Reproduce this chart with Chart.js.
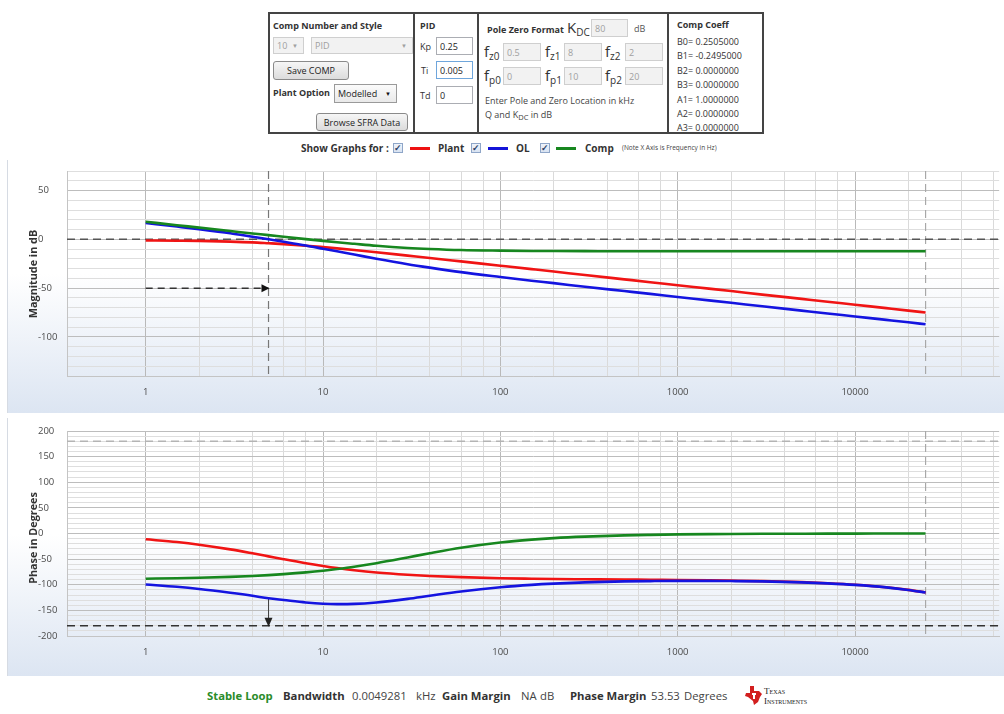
<!DOCTYPE html>
<html>
<head>
<meta charset="utf-8">
<script src="https://cdn.jsdelivr.net/npm/chart.js@4.4.1/dist/chart.umd.min.js"></script>
<style>
  html, body { margin: 0; padding: 0; background: #fff; }
  body { width: 1004px; height: 714px; position: relative; overflow: hidden;
         font-family: "Open Sans", "Noto Sans", sans-serif; color: #333; }
  .t { position: absolute; transform: translateY(-50%); line-height: 1; white-space: nowrap; }
  .b { font-weight: 700; }
  .s10 { font-size: 9px; }
  .box { position: absolute; box-sizing: border-box; font-size: 9px; line-height: 1;
         display: flex; align-items: center; padding-left: 3px; white-space: nowrap; }
  .inp { background: #fff; border: 1px solid #abadb3; color: #222; }
  .dis { background: #f2f2f2; border: 1px solid #cfcfcf; color: #a0a0a0; }
  .btn { background: linear-gradient(#f6f6f6, #dcdcdc); border: 1px solid #8a8a8a; border-radius: 3px;
         color: #222; justify-content: center; padding-left: 0; }
  .arrow { position: absolute; right: 5px; font-size: 6px; }
  .vr { position: absolute; top: 12px; width: 2px; height: 122px; background: #444; }
  .f { font-size: 15px; color: #333; }
  .f sub { font-size: 10px; vertical-align: -3px; }
  .chk { position: absolute; box-sizing: border-box; width: 10px; height: 10px; border: 1px solid #8fa6c8;
         background: linear-gradient(#eef3fb, #d9e3f2); font-size: 9px; line-height: 8px; text-align: center;
         color: #2b3f66; font-weight: 700; }
  .sw { position: absolute; height: 3px; width: 20px; }
  .panel { position: absolute; left: 7px; width: 997px; box-sizing: border-box;
           border-left: 1px solid #d6dbe3;
           background: linear-gradient(to bottom, #ffffff 0%, #ffffff 45%, #dce5f2 100%); }
  .ytitle { position: absolute; font-size: 10.8px; font-weight: 700; color: #333; white-space: nowrap;
            transform: translate(-50%, -50%) rotate(-90deg); }
  canvas { position: absolute; }
  .bot { font-size: 11.3px; }
</style>
</head>
<body>

<!-- compensator setup panel -->
<div style="position:absolute;left:268px;top:12px;width:496px;height:122px;border:2px solid #444;box-sizing:border-box;"></div>
<div class="vr" style="left:413px"></div>
<div class="vr" style="left:477px"></div>
<div class="vr" style="left:667px"></div>

<span class="t b s10" style="left:273px;top:25px">Comp Number and Style</span>
<div class="box dis" style="left:273px;top:37px;width:31px;height:17px">10<span class="arrow">&#9660;</span></div>
<div class="box dis" style="left:311px;top:37px;width:102px;height:17px">PID<span class="arrow">&#9660;</span></div>
<div class="box btn" style="left:273px;top:61px;width:76px;height:19px">Save COMP</div>
<span class="t b s10" style="left:273px;top:92px">Plant Option</span>
<div class="box inp" style="left:334px;top:84px;width:63px;height:19px;border-color:#9a9a9a;background:linear-gradient(#fbfbfb,#e9e9e9)">Modelled<span class="arrow" style="color:#111">&#9660;</span></div>
<div class="box btn" style="left:316px;top:113px;width:92px;height:18px">Browse SFRA Data</div>

<span class="t b s10" style="left:420px;top:25px">PID</span>
<span class="t s10" style="left:420px;top:46px">Kp</span>
<div class="box inp" style="left:436px;top:37px;width:37px;height:18px">0.25</div>
<span class="t s10" style="left:421px;top:70px">Ti</span>
<div class="box inp" style="left:436px;top:61px;width:37px;height:18px;border-color:#6fa6dc">0.005</div>
<span class="t s10" style="left:420px;top:95px">Td</span>
<div class="box inp" style="left:436px;top:86px;width:37px;height:18px">0</div>

<span class="t b s10" style="left:487px;top:29px">Pole Zero Format</span>
<span class="t f" style="left:567px;top:28px">K<sub>DC</sub></span>
<div class="box dis" style="left:591px;top:19px;width:37px;height:18px">80</div>
<span class="t s10" style="left:634px;top:28px;color:#555">dB</span>

<span class="t f" style="left:484px;top:52px">f<sub>z0</sub></span>
<div class="box dis" style="left:503px;top:43px;width:38px;height:18px">0.5</div>
<span class="t f" style="left:545px;top:52px">f<sub>z1</sub></span>
<div class="box dis" style="left:564px;top:43px;width:38px;height:18px">8</div>
<span class="t f" style="left:605px;top:52px">f<sub>z2</sub></span>
<div class="box dis" style="left:625px;top:43px;width:38px;height:18px">2</div>

<span class="t f" style="left:484px;top:76px">f<sub>p0</sub></span>
<div class="box dis" style="left:503px;top:67px;width:38px;height:18px">0</div>
<span class="t f" style="left:545px;top:76px">f<sub>p1</sub></span>
<div class="box dis" style="left:564px;top:67px;width:38px;height:18px">10</div>
<span class="t f" style="left:605px;top:76px">f<sub>p2</sub></span>
<div class="box dis" style="left:625px;top:67px;width:38px;height:18px">20</div>

<span class="t s10" style="left:485px;top:100px;color:#444">Enter Pole and Zero Location in kHz</span>
<span class="t s10" style="left:485px;top:116px;color:#444">Q and K<sub style="font-size:7.5px;vertical-align:-2px">DC</sub> in dB</span>

<span class="t b s10" style="left:677px;top:24px">Comp Coeff</span>
<span class="t s10" style="left:677px;top:41px">B0= 0.2505000</span>
<span class="t s10" style="left:677px;top:55px">B1= -0.2495000</span>
<span class="t s10" style="left:677px;top:70px">B2= 0.0000000</span>
<span class="t s10" style="left:677px;top:84px">B3= 0.0000000</span>
<span class="t s10" style="left:677px;top:99px">A1= 1.0000000</span>
<span class="t s10" style="left:677px;top:113px">A2= 0.0000000</span>
<span class="t s10" style="left:677px;top:127px">A3= 0.0000000</span>

<!-- series selector -->
<span class="t b" style="left:301px;top:148px;font-size:10px">Show Graphs for :</span>
<div class="chk" style="left:393px;top:143px">&#10003;</div>
<div class="sw" style="left:410px;top:147px;background:#ee1111"></div>
<span class="t b" style="left:438px;top:148px;font-size:10px">Plant</span>
<div class="chk" style="left:471px;top:143px">&#10003;</div>
<div class="sw" style="left:488px;top:147px;background:#1414d8"></div>
<span class="t b" style="left:516px;top:148px;font-size:10px">OL</span>
<div class="chk" style="left:540px;top:143px">&#10003;</div>
<div class="sw" style="left:556px;top:147px;background:#17871f"></div>
<span class="t b" style="left:585px;top:148px;font-size:10px">Comp</span>
<span class="t" style="left:622px;top:148px;font-size:6.5px;color:#444">(Note X Axis is Frequency in Hz)</span>

<!-- Bode plots -->
<div class="panel" style="top:160px;height:253px"></div>
<div class="panel" style="top:418px;height:258px"></div>
<canvas id="magChart" width="997" height="253" style="left:7px;top:160px"></canvas>
<canvas id="phaseChart" width="997" height="258" style="left:7px;top:418px"></canvas>
<div class="ytitle" style="left:32px;top:274px">Magnitude in dB</div>
<div class="ytitle" style="left:32px;top:538px">Phase in Degrees</div>

<!-- loop summary -->
<span class="t b bot" style="left:207px;top:696px;color:#2a8c2a">Stable Loop</span>
<span class="t b bot" style="left:283px;top:696px">Bandwidth</span>
<span class="t bot" style="left:352px;top:696px;color:#444">0.0049281</span>
<span class="t bot" style="left:416px;top:696px;color:#444">kHz</span>
<span class="t b bot" style="left:442px;top:696px">Gain Margin</span>
<span class="t bot" style="left:521px;top:696px;color:#444">NA</span>
<span class="t bot" style="left:540px;top:696px;color:#444">dB</span>
<span class="t b bot" style="left:570px;top:696px">Phase Margin</span>
<span class="t bot" style="left:651px;top:696px;color:#444">53.53</span>
<span class="t bot" style="left:684px;top:696px;color:#444">Degrees</span>
<svg style="position:absolute;left:745px;top:686px" width="17" height="19" viewBox="0 0 17 19">
  <path d="M5 0 H9 V5 H14 L17 8 L15 11 L13 16 L9 19 L8 15 L3 11 L0 10 L1 7 L5 7 Z" fill="#d21f1f"/>
  <path d="M7 7 H11 V9 H10 V13 H8 V9 H7 Z" fill="#fff"/>
</svg>
<span class="t" style="left:764px;top:691px;font-family:'Liberation Serif',serif;font-size:9px;color:#222;font-variant:small-caps">Texas</span>
<span class="t" style="left:764px;top:701px;font-family:'Liberation Serif',serif;font-size:9px;color:#222;font-variant:small-caps">Instruments</span>

<script>
// Frequency sweep points (Hz)
const freqHz = [1, 1.5, 2, 3, 4, 4.93, 6, 8, 10, 12, 15, 20, 30, 40, 60, 100, 150, 200, 300, 500, 700,
                1000, 1500, 2000, 3000, 5000, 7000, 10000, 15000, 20000, 25000];

// Magnitude (dB)
const plantMagDb = [-1.2, -1.4, -1.6, -2.3, -3.1, -4.0, -4.9, -6.5, -8.0, -9.3, -11.0, -13.3, -16.7, -19.1, -22.6,
                    -27.0, -30.5, -33.0, -36.6, -41.0, -43.9, -47.0, -50.5, -53.0, -56.6, -61.0, -63.9, -67.0,
                    -70.5, -73.0, -75.0];
const olMagDb = [16.8, 13.1, 10.4, 6.2, 2.6, 0.0, -2.5, -6.3, -9.6, -12.3, -15.6, -19.9, -25.5, -29.0, -33.6,
                 -38.6, -42.4, -44.9, -48.6, -53.0, -55.9, -59.0, -62.5, -65.0, -68.6, -73.0, -75.9, -79.0,
                 -82.5, -85.0, -87.0];
const compMagDb = [18.0, 14.5, 12.0, 8.5, 6.0, 4.3, 2.6, 0.2, -1.6, -3.0, -4.6, -6.6, -8.8, -9.9, -11.0,
                   -11.6, -11.9, -12.0, -12.1, -12.2, -12.2, -12.2, -12.2, -12.2, -12.2, -12.2, -12.2, -12.2,
                   -12.2, -12.2, -12.2];

// Phase (degrees)
const plantPhaseDeg = [-11.3, -16.7, -21.8, -31.0, -38.7, -44.6, -50.2, -58.0, -63.4, -67.4, -71.6, -76.0, -80.5,
                       -82.9, -85.2, -87.2, -88.2, -88.8, -89.3, -89.9, -90.3, -90.7, -91.3, -91.9, -92.9, -94.9,
                       -97.0, -100.0, -105.0, -110.0, -115.0];
const olPhaseDeg = [-99.5, -104.0, -108.2, -115.6, -121.5, -126.5, -129.8, -134.5, -137.0, -137.8, -137.4, -134.5,
                    -127.5, -121.4, -113.1, -104.9, -100.2, -97.8, -95.4, -93.5, -92.9, -92.5, -92.5, -92.8, -93.5,
                    -95.3, -97.3, -100.2, -105.1, -110.1, -115.1];
const compPhaseDeg = [-88.2, -87.3, -86.4, -84.6, -82.8, -81.2, -79.3, -75.9, -72.6, -69.3, -64.8, -57.9, -46.7,
                      -38.5, -27.9, -17.7, -12.0, -9.0, -6.1, -3.6, -2.6, -1.8, -1.2, -0.9, -0.6, -0.4, -0.3,
                      -0.2, -0.1, -0.1, -0.1];

// Axis ticks and loop markers
const decadeLabels = [1, 10, 100, 1000, 10000];
const gridMultipliers = [1, 2, 4, 6, 8];
const bandwidthHz = 4.9281;
const phaseMarginDeg = 53.53;
const sweepEndHz = 25000;
const gainMarkerDb = -50;

const X_MIN = 0.36, X_MAX = 65000;

const xGridValues = [];
for (let d = 1; d <= X_MAX; d *= 10) {
  gridMultipliers.forEach(m => { if (m * d <= X_MAX) xGridValues.push(m * d); });
}

const pts = (ys) => freqHz.map((f, i) => ({ x: f, y: ys[i] }));
const seg = (a, b) => [a, b];

function curve(data, color) {
  return { data, borderColor: color, borderWidth: 2.6, pointRadius: 0, fill: false,
           cubicInterpolationMode: 'monotone' };
}
function refLine(data, color, dash, width) {
  return { data, borderColor: color, borderWidth: width || 1.3, borderDash: dash || [], pointRadius: 0,
           fill: false, tension: 0 };
}

const arrowHeads = {
  id: 'arrowHeads',
  afterDatasetsDraw(chart, args, opts) {
    const { ctx, scales: { x, y } } = chart;
    (opts.items || []).forEach(a => {
      const px = x.getPixelForValue(a.x), py = y.getPixelForValue(a.y);
      ctx.save();
      ctx.fillStyle = a.color;
      ctx.beginPath();
      if (a.dir === 'right') {
        ctx.moveTo(px + 1, py); ctx.lineTo(px - 7, py - 4); ctx.lineTo(px - 7, py + 4);
      } else {
        ctx.moveTo(px, py + 1); ctx.lineTo(px - 4, py - 8); ctx.lineTo(px + 4, py - 8);
      }
      ctx.closePath();
      ctx.fill();
      ctx.restore();
    });
  }
};

function xAxis(height) {
  return {
    type: 'logarithmic', min: X_MIN, max: X_MAX,
    afterBuildTicks: (s) => { s.ticks = xGridValues.map(v => ({ value: v })); },
    afterFit: (s) => { s.height = height; },
    ticks: {
      autoSkip: false, maxRotation: 0, padding: 11, color: '#4a4a4a',
      font: { family: 'Open Sans', size: 9.5 },
      callback: (v) => decadeLabels.includes(v) ? String(v) : ''
    },
    grid: {
      drawTicks: false,
      color: (c) => c.tick && decadeLabels.includes(c.tick.value) ? '#b9b9b9' : '#dadada',
      lineWidth: 1
    },
    border: { display: true, color: '#c4c4c4' }
  };
}
function yAxis(min, max, step, labelEvery) {
  return {
    min, max,
    ticks: {
      stepSize: step, crossAlign: 'far', color: '#4a4a4a', padding: 4, autoSkip: false,
      font: { family: 'Open Sans', size: 9.5 },
      callback: (v) => (Math.round(v) % labelEvery === 0) ? String(Math.round(v)) : ''
    },
    afterFit: (s) => { s.width = 29; },
    grid: {
      drawTicks: false,
      color: (c) => c.tick && Math.round(c.tick.value) % labelEvery === 0 ? '#bdbdbd' : '#dedede',
      lineWidth: 1
    },
    border: { display: true, color: '#c4c4c4' }
  };
}

const common = {
  responsive: false, animation: false, devicePixelRatio: 1,
  plugins: { legend: { display: false }, tooltip: { enabled: false } }
};

new Chart(document.getElementById('magChart'), {
  type: 'line',
  data: {
    datasets: [
      curve(pts(compMagDb), '#17871f'),
      curve(pts(olMagDb), '#1414e0'),
      curve(pts(plantMagDb), '#f01414'),
      refLine(seg({ x: X_MIN, y: 0 }, { x: X_MAX, y: 0 }), '#555', [8, 5], 1.5),
      refLine(seg({ x: bandwidthHz, y: 70 }, { x: bandwidthHz, y: -140 }), '#777', [8, 5], 1.2),
      refLine(seg({ x: sweepEndHz, y: 70 }, { x: sweepEndHz, y: -140 }), '#a8a8a8', [8, 5], 1.2),
      refLine(seg({ x: 1, y: gainMarkerDb }, { x: bandwidthHz, y: gainMarkerDb }), '#333', [7, 5], 1.5)
    ]
  },
  options: Object.assign({}, common, {
    layout: { padding: { left: 31, top: 11, right: 0, bottom: 0 } },
    scales: { x: xAxis(37), y: yAxis(-140, 70, 10, 50) },
    plugins: Object.assign({}, common.plugins, {
      arrowHeads: { items: [{ x: bandwidthHz, y: gainMarkerDb, dir: 'right', color: '#111' }] }
    })
  }),
  plugins: [arrowHeads]
});

new Chart(document.getElementById('phaseChart'), {
  type: 'line',
  data: {
    datasets: [
      curve(pts(compPhaseDeg), '#17871f'),
      curve(pts(olPhaseDeg), '#1414e0'),
      curve(pts(plantPhaseDeg), '#f01414'),
      refLine(seg({ x: X_MIN, y: 180 }, { x: X_MAX, y: 180 }), '#b4b4b4', [8, 5], 1.3),
      refLine(seg({ x: X_MIN, y: -180 }, { x: X_MAX, y: -180 }), '#333', [8, 5], 1.5),
      refLine(seg({ x: sweepEndHz, y: 200 }, { x: sweepEndHz, y: -200 }), '#a8a8a8', [8, 5], 1.2),
      refLine(seg({ x: bandwidthHz, y: -180 + phaseMarginDeg }, { x: bandwidthHz, y: -180 }), '#444', [], 1)
    ]
  },
  options: Object.assign({}, common, {
    layout: { padding: { left: 31, top: 13, right: 0, bottom: 0 } },
    scales: { x: xAxis(40), y: yAxis(-200, 200, 10, 50) },
    plugins: Object.assign({}, common.plugins, {
      arrowHeads: { items: [{ x: bandwidthHz, y: -180, dir: 'down', color: '#222' }] }
    })
  }),
  plugins: [arrowHeads]
});
</script>
</body>
</html>
